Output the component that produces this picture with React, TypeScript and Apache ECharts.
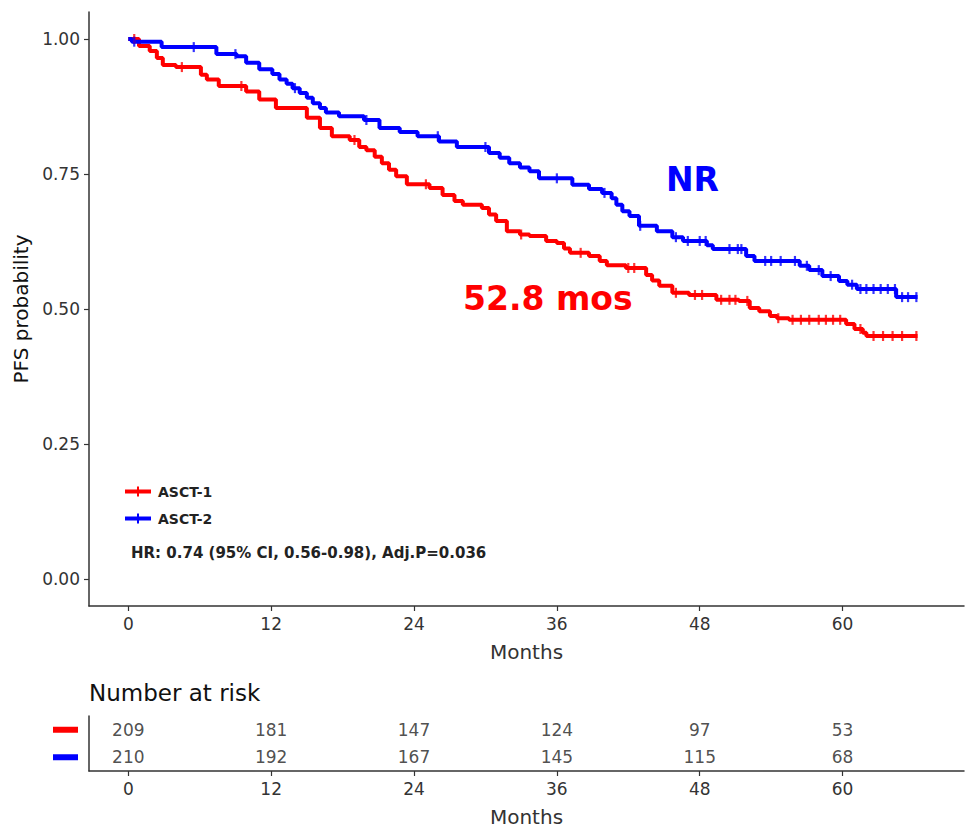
import React, { useEffect, useRef } from "react";
import * as echarts from "echarts";

// Kaplan–Meier progression-free survival, ASCT-1 vs ASCT-2
const MONTH_TICKS = [0, 12, 24, 36, 48, 60];
const PROB_TICKS = [0, 0.25, 0.5, 0.75, 1];
const GROUPS = ["ASCT-1", "ASCT-2"];
const GROUP_COLORS = ["#ff0000", "#0000ff"];

// Step points: time of each drop (months) and survival after it
const ASCT1_TIMES = [0, 0.9, 1.8, 2.4, 2.9, 4.0, 6.1, 6.6, 7.6, 9.9, 11.0, 12.4, 15.0, 16.1, 17.1, 18.6, 19.4, 20.0, 20.7, 21.3, 21.9, 22.5, 23.4, 25.3, 26.4, 27.4, 28.1, 29.7, 30.3, 30.9, 31.8, 32.9, 33.7, 35.1, 36.0, 36.6, 37.1, 38.7, 39.6, 40.2, 41.8, 43.5, 44.0, 44.6, 45.7, 47.1, 49.4, 51.3, 52.2, 53.0, 53.9, 54.5, 55.5, 60.3, 61.0, 61.7, 62.0, 66.3];
const ASCT1_SURV = [1.0, 0.987, 0.978, 0.965, 0.952, 0.948, 0.934, 0.925, 0.913, 0.903, 0.888, 0.872, 0.854, 0.835, 0.82, 0.813, 0.8, 0.794, 0.782, 0.77, 0.758, 0.746, 0.731, 0.724, 0.711, 0.7, 0.693, 0.687, 0.675, 0.663, 0.644, 0.638, 0.635, 0.626, 0.622, 0.612, 0.604, 0.598, 0.589, 0.581, 0.576, 0.563, 0.553, 0.543, 0.53, 0.526, 0.517, 0.515, 0.502, 0.496, 0.487, 0.483, 0.48, 0.472, 0.463, 0.456, 0.45, 0.45];
const ASCT2_TIMES = [0, 0.3, 2.8, 7.4, 9.1, 9.9, 11.0, 12.1, 12.7, 13.3, 13.8, 14.4, 15.0, 15.5, 16.1, 16.6, 17.7, 19.8, 21.1, 22.8, 24.3, 26.1, 27.6, 30.3, 31.2, 32.0, 32.9, 33.7, 34.5, 37.3, 38.7, 39.8, 40.6, 41.0, 41.5, 42.1, 42.9, 44.4, 45.7, 46.6, 48.6, 49.1, 51.9, 52.6, 56.4, 57.2, 58.3, 59.7, 60.4, 61.2, 64.5, 66.3];
const ASCT2_SURV = [1.0, 0.995, 0.985, 0.972, 0.968, 0.956, 0.944, 0.935, 0.925, 0.917, 0.909, 0.9, 0.891, 0.881, 0.872, 0.864, 0.857, 0.85, 0.835, 0.828, 0.82, 0.81, 0.8, 0.789, 0.78, 0.77, 0.762, 0.755, 0.742, 0.73, 0.722, 0.715, 0.705, 0.693, 0.681, 0.672, 0.654, 0.644, 0.633, 0.626, 0.618, 0.611, 0.598, 0.589, 0.58, 0.572, 0.561, 0.552, 0.545, 0.537, 0.522, 0.522];

// Censoring times (months)
const ASCT1_CENSOR = [0.5, 4.5, 9.5, 19, 25, 33, 38, 42, 42.5, 46, 47.6, 48.2, 49.8, 50.5, 51, 52, 54.6, 55.8, 56.5, 57.2, 58, 58.6, 59.2, 59.8, 61.5, 62.6, 63.4, 64.2, 65, 66.2];
const ASCT2_CENSOR = [0.5, 5.5, 9, 14, 20, 26, 30, 36, 40, 43, 46, 47, 48, 48.5, 50.5, 51.2, 51.5, 53.5, 54, 54.8, 56, 57, 58, 59, 60.8, 61.5, 62, 62.6, 63.2, 63.8, 64.4, 65, 65.5, 66.2];

// Number at risk at each month tick
const RISK_ASCT1 = [209, 181, 147, 124, 97, 53];
const RISK_ASCT2 = [210, 192, 167, 145, 115, 68];

const HR_TEXT = "HR: 0.74 (95% CI, 0.56-0.98), Adj.P=0.036";
const MEDIAN_ASCT1 = "52.8 mos";
const MEDIAN_ASCT2 = "NR";

const FONT = "DejaVu Sans";
const AXIS_COLOR = "#333333";

function stepData(times: number[], surv: number[]) {
  return times.map((t, i) => [t, surv[i]]);
}

function survAt(times: number[], surv: number[], t: number) {
  let s = surv[0];
  for (let i = 0; i < times.length; i++) {
    if (times[i] <= t) s = surv[i];
    else break;
  }
  return s;
}

function censorData(times: number[], surv: number[], cens: number[]) {
  return cens.map((t) => [t, survAt(times, surv, t)]);
}

export default function App() {
  const ref = useRef<HTMLDivElement>(null);

  useEffect(() => {
    if (!ref.current) return;
    const chart = echarts.init(ref.current, null, { renderer: "svg" });

    const axisLine = { show: true, onZero: false, lineStyle: { color: AXIS_COLOR, width: 1.5 } };

    const xCommon = {
      type: "value",
      min: -3.3,
      max: 70.2,
      splitLine: { show: false },
      axisLine,
      axisTick: { show: true, length: 5, lineStyle: { color: AXIS_COLOR, width: 1.2 }, customValues: MONTH_TICKS },
      axisLabel: { color: AXIS_COLOR, fontFamily: FONT, fontSize: 17, margin: 9, customValues: MONTH_TICKS },
      name: "Months",
      nameLocation: "middle",
      nameTextStyle: { color: AXIS_COLOR, fontFamily: FONT, fontSize: 20 },
    };

    const riskRows = [RISK_ASCT1, RISK_ASCT2];

    chart.setOption({
      animation: false,
      backgroundColor: "#ffffff",
      grid: [
        { left: 89, right: 3, top: 12, bottom: 222, containLabel: false },
        { left: 89, right: 3, top: 716, bottom: 53, containLabel: false },
      ],
      xAxis: [
        { ...xCommon, gridIndex: 0, nameGap: 36 },
        { ...xCommon, gridIndex: 1, nameGap: 36 },
      ],
      yAxis: [
        {
          type: "value",
          gridIndex: 0,
          min: -0.05,
          max: 1.05,
          splitLine: { show: false },
          axisLine,
          axisTick: { show: true, length: 5, lineStyle: { color: AXIS_COLOR, width: 1.2 }, customValues: PROB_TICKS },
          axisLabel: {
            color: AXIS_COLOR,
            fontFamily: FONT,
            fontSize: 17,
            margin: 9,
            customValues: PROB_TICKS,
            formatter: (v: number) => v.toFixed(2),
          },
          name: "PFS probability",
          nameLocation: "middle",
          nameGap: 58,
          nameTextStyle: { color: "#111111", fontFamily: FONT, fontSize: 20 },
        },
        {
          type: "category",
          gridIndex: 1,
          data: ["ASCT-2", "ASCT-1"],
          axisLine,
          axisTick: { show: false },
          axisLabel: {
            margin: 11,
            formatter: (v: string) => (v === "ASCT-1" ? "{r|}" : "{b|}"),
            rich: {
              r: { backgroundColor: GROUP_COLORS[0], width: 25, height: 6 },
              b: { backgroundColor: GROUP_COLORS[1], width: 25, height: 6 },
            },
          },
          name: "Number at risk",
          nameLocation: "end",
          nameGap: 12,
          nameTextStyle: { color: "#111111", fontFamily: FONT, fontSize: 23, align: "left" },
        },
      ],
      legend: {
        left: 120,
        top: 479,
        orient: "vertical",
        itemWidth: 26,
        itemHeight: 10,
        itemGap: 12,
        data: GROUPS.map((g) => ({
          name: g,
          icon: "path://M0,3 L26,3 L26,7 L0,7 Z M12,0 L14,0 L14,10 L12,10 Z",
        })),
        textStyle: { fontFamily: FONT, fontSize: 14, fontWeight: "bold", color: "#222222", lineHeight: 15, padding: [0, 0, 0, 2] },
      },
      series: [
        {
          name: GROUPS[0],
          type: "line",
          step: "end",
          xAxisIndex: 0,
          yAxisIndex: 0,
          showSymbol: false,
          symbol: "none",
          lineStyle: { color: GROUP_COLORS[0], width: 4 },
          itemStyle: { color: GROUP_COLORS[0] },
          data: stepData(ASCT1_TIMES, ASCT1_SURV),
          z: 3,
        },
        {
          name: GROUPS[1],
          type: "line",
          step: "end",
          xAxisIndex: 0,
          yAxisIndex: 0,
          showSymbol: false,
          symbol: "none",
          lineStyle: { color: GROUP_COLORS[1], width: 4 },
          itemStyle: { color: GROUP_COLORS[1] },
          data: stepData(ASCT2_TIMES, ASCT2_SURV),
          z: 4,
        },
        {
          type: "scatter",
          xAxisIndex: 0,
          yAxisIndex: 0,
          symbol: "rect",
          symbolSize: [2.2, 10],
          itemStyle: { color: GROUP_COLORS[0] },
          data: censorData(ASCT1_TIMES, ASCT1_SURV, ASCT1_CENSOR),
          silent: true,
          z: 5,
        },
        {
          type: "scatter",
          xAxisIndex: 0,
          yAxisIndex: 0,
          symbol: "rect",
          symbolSize: [2.2, 10],
          itemStyle: { color: GROUP_COLORS[1] },
          data: censorData(ASCT2_TIMES, ASCT2_SURV, ASCT2_CENSOR),
          silent: true,
          z: 5,
        },
        ...riskRows.map((row, gi) => ({
          type: "scatter",
          xAxisIndex: 1,
          yAxisIndex: 1,
          symbolSize: 0,
          silent: true,
          data: row.map((n, i) => [MONTH_TICKS[i], GROUPS[gi], n]),
          label: {
            show: true,
            position: "inside",
            formatter: (p: any) => String(p.value[2]),
            fontFamily: FONT,
            fontSize: 17,
            color: "#222222",
          },
        })),
      ],
      graphic: [
        {
          type: "text",
          left: 131,
          top: 545,
          style: { text: HR_TEXT, font: `bold 15px '${FONT}'`, fill: "#222222" },
        },
        {
          type: "text",
          left: 666,
          top: 163,
          style: { text: MEDIAN_ASCT2, font: `bold 33px '${FONT}'`, fill: GROUP_COLORS[1] },
        },
        {
          type: "text",
          left: 463,
          top: 282,
          style: { text: MEDIAN_ASCT1, font: `bold 33px '${FONT}'`, fill: GROUP_COLORS[0] },
        },
      ],
    });

    return () => chart.dispose();
  }, []);

  return <div ref={ref} style={{ width: 967, height: 828, position: "absolute", left: 0, top: 0 }} />;
}
